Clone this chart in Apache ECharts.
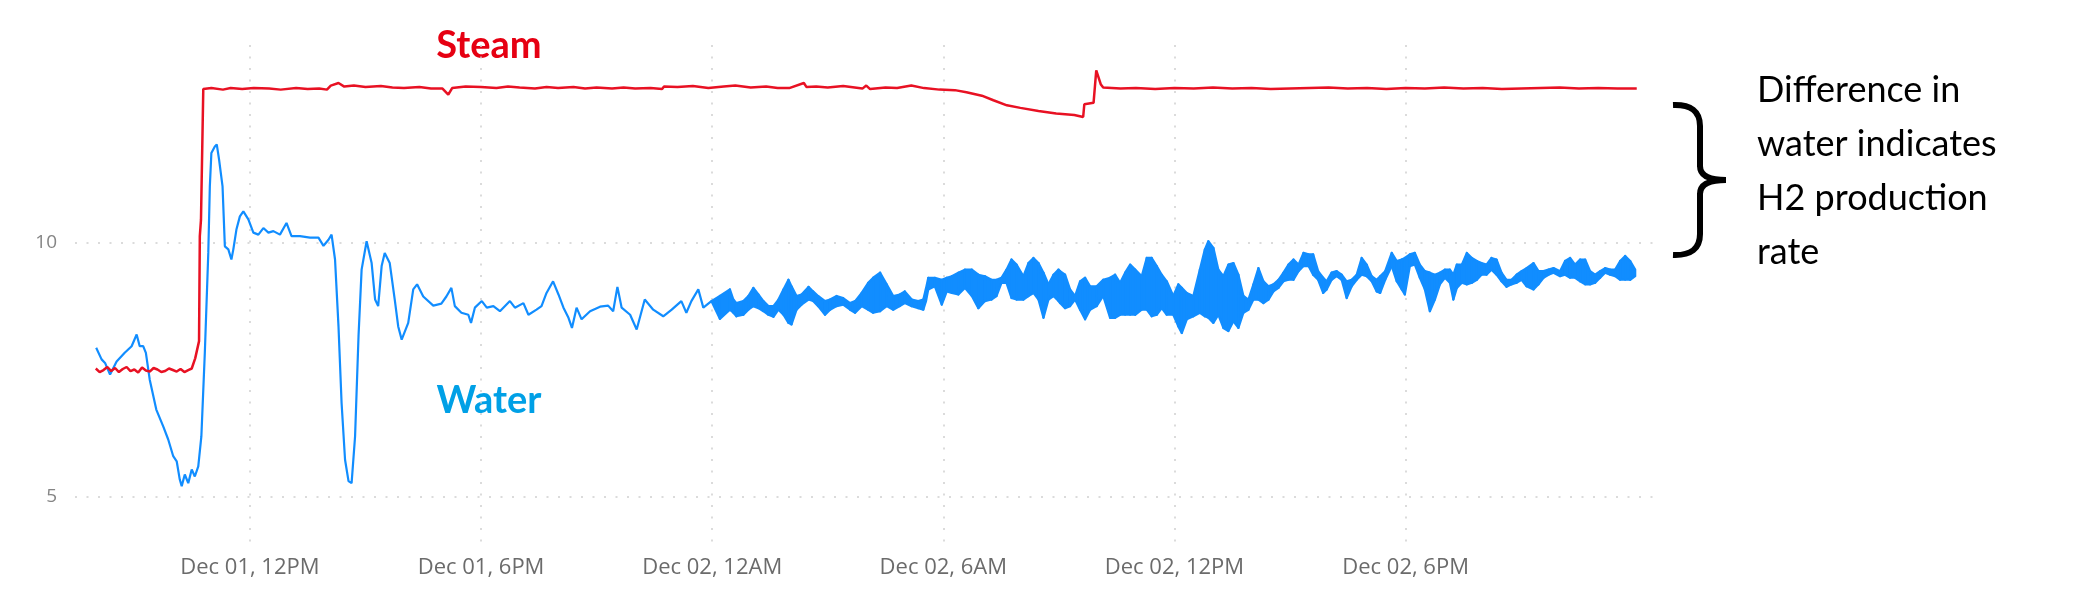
<!DOCTYPE html>
<html><head><meta charset="utf-8">
<script src="https://cdn.jsdelivr.net/npm/echarts@6/dist/echarts.min.js"></script>
<style>html,body{margin:0;padding:0;background:#fff}#c{width:2080px;height:595px}</style>
</head><body><div id="c"></div>
<script>
// time values are hours since Dec 01, 00:00
const xTickHours = [12, 18, 24, 30, 36, 42];
const yTickValues = [5, 10];
const seriesNames = ['Steam', 'Water'];
const noteLines = ['Difference in', 'water indicates', 'H2 production', 'rate'];

const steamHours = [8.00,8.10,8.20,8.30,8.40,8.50,8.60,8.70,8.80,8.90,9.00,9.10,9.20,9.30,9.40,9.50,9.60,9.70,9.80,9.90,10.00,10.10,10.20,10.30,10.40,10.49,10.58,10.68,10.70,10.73,10.79,
  11.0,11.3,11.5,11.8,12.1,12.5,12.8,13.2,13.5,13.8,14.0,14.1,14.3,14.45,14.7,15.0,15.4,15.7,16.0,16.4,16.7,17.0,17.15,17.25,17.6,18.0,18.4,18.7,19.0,19.4,19.7,20.0,20.4,20.7,21.0,
  21.4,21.7,22.0,22.4,22.7,22.75,23.1,23.5,23.9,24.3,24.6,25.0,25.4,25.7,26.0,26.38,26.45,26.7,
  27.0,27.4,27.9,28.0,28.1,28.5,28.8,29.17,29.5,29.9,30.3,30.6,31.0,31.3,31.65,32.0,32.47,32.93,33.4,33.63,33.66,33.9,33.97,34.09,34.15,
  34.6,35,35.5,36,36.5,37,37.5,38,38.5,39,39.5,40,40.5,41,41.5,42,42.5,43,43.5,44,44.5,45,45.5,46,46.5,47,47.5,48.0];
const steamValues = [7.52,7.45,7.49,7.55,7.47,7.53,7.45,7.51,7.55,7.47,7.50,7.44,7.54,7.48,7.46,7.53,7.50,7.45,7.47,7.52,7.49,7.46,7.51,7.45,7.49,7.52,7.72,8.06,10.13,10.45,13.03,
  13.05,13.02,13.05,13.03,13.05,13.04,13.02,13.05,13.03,13.04,13.02,13.10,13.15,13.08,13.10,13.07,13.09,13.06,13.05,13.07,13.04,13.04,12.92,13.05,13.08,13.07,13.05,13.08,13.06,13.04,13.07,13.05,13.07,13.04,13.06,
  13.04,13.06,13.04,13.05,13.03,13.08,13.07,13.09,13.05,13.08,13.10,13.06,13.08,13.05,13.05,13.15,13.07,13.08,
  13.06,13.09,13.04,13.10,13.03,13.06,13.05,13.10,13.05,13.02,13.01,12.97,12.90,12.81,12.71,12.66,12.60,12.55,12.52,12.48,12.73,12.76,13.40,13.12,13.06,
  13.04,13.05,13.03,13.05,13.04,13.06,13.04,13.05,13.03,13.04,13.05,13.06,13.04,13.05,13.03,13.05,13.04,13.06,13.04,13.05,13.03,13.04,13.05,13.06,13.04,13.05,13.04,13.04];

const waterHours = [8.01,8.15,8.24,8.37,8.54,8.75,8.93,9.06,9.14,9.23,9.30,9.40,9.57,9.75,9.88,10.01,10.10,10.18,10.23,10.31,10.40,10.49,10.57,10.66,10.74,10.83,10.92,10.96,
  11.00,11.09,11.14,11.20,11.29,11.35,11.44,11.52,11.57,11.65,11.74,11.83,11.96,12.09,12.22,12.35,12.48,12.61,12.78,12.95,13.08,13.30,13.56,13.78,13.91,14.04,14.12,
  14.21,14.30,14.38,14.47,14.56,14.64,14.73,14.82,14.90,15.03,15.16,15.25,15.33,15.42,15.50,15.63,15.76,15.85,15.94,16.11,16.24,16.34,16.50,16.76,16.97,17.10,17.23,
  17.32,17.49,17.67,17.74,17.84,18.02,18.15,18.32,18.49,18.75,18.88,19.10,19.23,19.44,19.57,19.70,19.87,20.01,20.14,20.27,20.36,20.48,20.61,20.83,21.09,21.30,21.43,
  21.54,21.65,21.87,22.04,22.25,22.47,22.73,22.95,23.20,23.33,23.46,23.64,23.77,23.98];
const waterValues = [7.93,7.70,7.63,7.40,7.66,7.83,7.96,8.19,7.96,7.96,7.83,7.30,6.71,6.38,6.12,5.79,5.69,5.33,5.20,5.43,5.26,5.53,5.39,5.59,6.18,7.83,9.80,11.11,
  11.77,11.90,11.94,11.64,11.11,9.93,9.87,9.67,9.87,10.26,10.52,10.62,10.46,10.20,10.16,10.29,10.20,10.23,10.16,10.39,10.13,10.13,10.10,10.10,9.94,10.06,10.16,
  9.67,8.35,6.84,5.72,5.30,5.26,6.18,8.16,9.47,10.03,9.60,8.88,8.75,9.54,9.80,9.60,8.88,8.35,8.09,8.42,9.08,9.18,8.94,8.76,8.80,8.94,9.11,
  8.75,8.62,8.58,8.42,8.72,8.85,8.72,8.75,8.65,8.85,8.72,8.81,8.58,8.68,8.75,9.01,9.24,8.98,8.72,8.52,8.32,8.72,8.49,8.65,8.74,8.76,8.65,
  9.13,8.72,8.58,8.29,8.88,8.68,8.55,8.68,8.85,8.62,8.85,9.08,8.72,8.85];

// dense oscillation band of the water signal: lower / upper envelope
const bandHours = [23.98,24.20,24.46,24.55,24.63,24.81,24.94,25.07,25.20,25.33,25.46,25.59,25.72,25.85,25.98,26.06,26.19,26.32,26.50,26.62,26.75,26.93,27.06,27.23,27.40,27.58,27.71,27.88,
  28.05,28.18,28.36,28.53,28.70,28.87,29.00,29.18,29.35,29.48,29.55,29.61,29.78,29.96,30.09,30.22,30.39,30.56,30.74,30.91,31.08,31.25,31.38,31.51,31.64,31.77,31.90,32.08,32.21,32.34,
  32.47,32.60,32.73,32.86,32.99,33.03,33.16,33.29,33.42,33.55,33.68,33.81,33.98,34.15,34.33,34.46,34.59,34.72,34.85,34.98,35.15,35.28,35.41,35.54,35.67,35.80,35.97,36.10,36.19,36.32,
  36.49,36.66,36.79,36.88,37.01,37.14,37.27,37.40,37.53,37.66,37.79,37.92,38.05,38.18,38.31,38.44,38.57,38.70,38.83,38.96,39.09,39.22,39.35,39.48,39.60,39.73,39.86,39.95,40.08,40.21,
  40.34,40.47,40.60,40.73,40.86,40.99,41.12,41.25,41.34,41.47,41.64,41.77,41.90,41.98,42.11,42.24,42.37,42.50,42.63,42.76,42.89,43.02,43.15,43.24,43.33,43.46,43.59,43.72,43.85,43.97,
  44.10,44.23,44.36,44.49,44.62,44.75,44.88,45.01,45.14,45.32,45.45,45.58,45.71,45.84,46.01,46.14,46.27,46.40,46.53,46.66,46.79,46.92,47.05,47.18,47.31,47.44,47.57,47.70,47.83,47.96];
const bandHigh = [8.85,8.95,9.08,8.88,8.81,8.85,8.95,9.11,8.98,8.85,8.75,8.75,8.88,9.08,9.27,9.14,8.95,8.98,9.13,9.04,8.95,8.85,8.88,8.95,8.91,8.81,8.85,9.01,
  9.21,9.31,9.41,9.18,8.95,8.98,9.04,8.88,8.85,8.88,9.10,9.31,9.31,9.27,9.31,9.34,9.41,9.47,9.47,9.37,9.34,9.27,9.27,9.31,9.47,9.67,9.57,9.34,9.60,9.70,
  9.60,9.41,9.18,9.37,9.47,9.44,9.37,9.08,8.95,9.24,9.31,9.14,9.14,9.27,9.31,9.37,9.21,9.41,9.57,9.47,9.34,9.70,9.70,9.54,9.37,9.24,8.95,9.18,9.11,9.01,
  8.95,9.47,9.87,10.03,9.90,9.47,9.34,9.57,9.60,9.37,8.95,8.88,9.18,9.50,9.24,9.14,9.18,9.27,9.41,9.57,9.67,9.57,9.80,9.77,9.77,9.44,9.31,9.24,9.41,9.44,
  9.37,9.24,9.27,9.37,9.70,9.57,9.34,9.27,9.34,9.44,9.80,9.64,9.67,9.70,9.77,9.80,9.57,9.44,9.41,9.37,9.41,9.47,9.47,9.37,9.57,9.57,9.80,9.70,9.64,9.60,
  9.57,9.70,9.67,9.41,9.27,9.27,9.37,9.44,9.50,9.60,9.44,9.44,9.47,9.50,9.44,9.64,9.70,9.57,9.67,9.67,9.44,9.37,9.44,9.50,9.47,9.47,9.64,9.74,9.64,9.47];
const bandLow = [8.85,8.50,8.68,8.62,8.55,8.58,8.68,8.75,8.71,8.65,8.58,8.54,8.68,8.58,8.42,8.39,8.68,8.78,8.88,8.85,8.75,8.58,8.68,8.75,8.78,8.68,8.62,8.75,
  8.68,8.62,8.65,8.75,8.68,8.75,8.81,8.75,8.71,8.68,8.85,9.08,9.14,8.78,9.04,9.01,8.98,9.11,8.95,8.71,8.85,8.88,8.95,9.21,9.21,8.91,8.88,8.88,8.95,9.01,
  8.88,8.52,8.88,8.95,8.85,8.81,8.71,8.75,8.88,8.68,8.49,8.68,8.75,8.95,8.52,8.52,8.58,8.58,8.58,8.58,8.68,8.68,8.55,8.58,8.71,8.58,8.58,8.35,8.22,8.49,
  8.55,8.62,8.55,8.52,8.42,8.58,8.32,8.26,8.45,8.32,8.62,8.68,8.88,8.88,8.81,8.88,9.04,9.11,9.24,9.27,9.27,9.44,9.54,9.54,9.37,9.27,9.01,9.08,9.27,9.34,
  9.27,8.91,9.14,9.27,9.37,9.34,9.24,9.04,9.01,9.27,9.54,9.24,9.08,8.98,9.54,9.57,9.31,9.08,8.65,8.88,9.18,9.31,9.21,8.88,9.11,9.21,9.18,9.21,9.27,9.37,
  9.37,9.47,9.37,9.24,9.13,9.18,9.21,9.27,9.14,9.08,9.18,9.31,9.37,9.41,9.34,9.37,9.31,9.31,9.24,9.18,9.18,9.21,9.31,9.41,9.37,9.34,9.27,9.27,9.27,9.34];

const RED = '#E81123', BLUE = '#118DFF';
const pairs = (xs, ys) => xs.map((x, i) => [x, ys[i]]);
const bandSegments = bandHours.slice(0, -1).map((h, i) =>
  [h, bandLow[i], bandHigh[i], bandHours[i + 1], bandLow[i + 1], bandHigh[i + 1]]);

function fmtHour(h) {
  const day = Math.floor(h / 24) + 1;
  const hr = ((h % 24) + 24) % 24;
  let h12 = hr % 12; if (h12 === 0) h12 = 12;
  return 'Dec 0' + day + ', ' + h12 + (hr < 12 ? 'AM' : 'PM');
}

const grid = { left: 75, right: 424, top: 45, bottom: 48 };
const gridLine = { color: '#cfcfcf', width: 1.5, type: [2, 9.5] };
const braceStyle = { stroke: '#000', lineWidth: 6, fill: null, lineCap: 'butt' };

const chart = echarts.init(document.getElementById('c'), null, { renderer: 'canvas' });
chart.setOption({
  animation: false,
  backgroundColor: '#fff',
  grid: Object.assign({ containLabel: false }, grid),
  xAxis: {
    type: 'value', min: 7.46, max: 48.5,
    axisLine: { show: false },
    axisTick: { show: false, customValues: xTickHours },
    axisLabel: { customValues: xTickHours, formatter: fmtHour, margin: 10,
      color: '#6b6b6b', fontSize: 22, fontFamily: 'Open Sans' },
    splitLine: { show: true, lineStyle: gridLine }
  },
  yAxis: {
    type: 'value', min: 4, max: 13.9,
    axisLine: { show: false },
    axisTick: { show: false, customValues: yTickValues },
    axisLabel: { customValues: yTickValues, margin: 18, color: '#858585', fontSize: 19, fontFamily: 'Open Sans' },
    splitLine: { show: true, lineStyle: gridLine }
  },
  series: [
    { name: 'Water band', type: 'custom', data: bandSegments,
      encode: { x: [0, 3], y: [1, 2, 4, 5] },
      renderItem: function (params, api) {
        const a = api.coord([api.value(0), api.value(2)]);
        const b = api.coord([api.value(3), api.value(5)]);
        const c = api.coord([api.value(3), api.value(4)]);
        const d = api.coord([api.value(0), api.value(1)]);
        return { type: 'polygon', shape: { points: [a, b, c, d] },
          style: { fill: BLUE, stroke: BLUE, lineWidth: 2.2, lineJoin: 'round' } };
      }, z: 2 },
    { name: seriesNames[1], type: 'line', data: pairs(waterHours, waterValues), showSymbol: false,
      lineStyle: { color: BLUE, width: 2.2 }, itemStyle: { color: BLUE }, z: 3 },
    { name: seriesNames[0], type: 'line', data: pairs(steamHours, steamValues), showSymbol: false,
      lineStyle: { color: RED, width: 2.5 }, itemStyle: { color: RED }, z: 4 }
  ],
  graphic: [
    { type: 'text', x: 489, y: 46, style: { text: seriesNames[0], fill: '#E60012',
      font: 'bold 38px Lato', align: 'center', verticalAlign: 'middle' } },
    { type: 'text', x: 489, y: 401, style: { text: seriesNames[1], fill: '#00A0E6',
      font: 'bold 38px Lato', align: 'center', verticalAlign: 'middle' } },
    { type: 'bezierCurve', shape: { x1: 1673, y1: 105, cpx1: 1700, cpy1: 104, x2: 1700, y2: 126 }, style: braceStyle },
    { type: 'line', shape: { x1: 1700, y1: 126, x2: 1700, y2: 167 }, style: braceStyle },
    { type: 'bezierCurve', shape: { x1: 1700, y1: 166, cpx1: 1700, cpy1: 180, x2: 1726, y2: 180 }, style: braceStyle },
    { type: 'bezierCurve', shape: { x1: 1726, y1: 180, cpx1: 1700, cpy1: 180, x2: 1700, y2: 194 }, style: braceStyle },
    { type: 'line', shape: { x1: 1700, y1: 193, x2: 1700, y2: 234 }, style: braceStyle },
    { type: 'bezierCurve', shape: { x1: 1700, y1: 234, cpx1: 1700, cpy1: 256, x2: 1673, y2: 255 }, style: braceStyle }
  ].concat(noteLines.map((t, i) => ({ type: 'text', x: 1757, y: 90 + i * 54,
      style: { text: t, fill: '#000', font: '36px Lato', align: 'left', verticalAlign: 'middle' } })))
});
</script></body></html>
